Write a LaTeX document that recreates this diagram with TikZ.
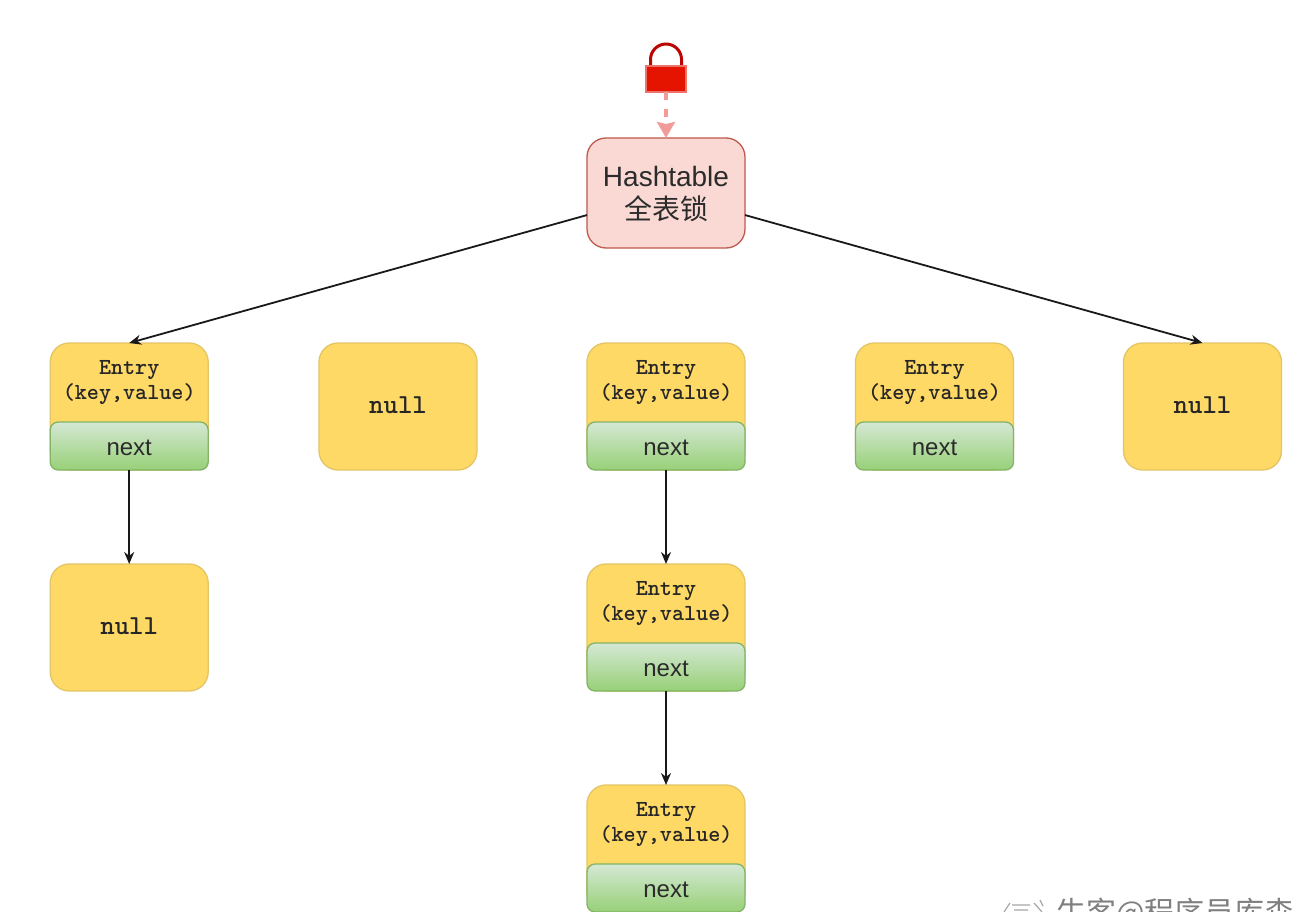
\documentclass[tikz,border=0pt]{standalone}
\usepackage{fontspec}
\setmainfont{Liberation Sans}
\newfontfamily\cjk{Noto Sans CJK SC}
\usetikzlibrary{arrows.meta,shadings}
\definecolor{yfill}{HTML}{FFD966}
\definecolor{ystroke}{HTML}{E3C565}
\definecolor{gtop}{HTML}{D5E8D4}
\definecolor{gbot}{HTML}{97D077}
\definecolor{gstroke}{HTML}{82B366}
\definecolor{hfill}{HTML}{FAD9D5}
\definecolor{hstroke}{HTML}{BE5A4C}
\definecolor{lfill}{HTML}{E51400}
\definecolor{lstroke}{HTML}{B20000}
\definecolor{pinkline}{HTML}{F19C99}
\definecolor{ink}{HTML}{2B2B2B}
\tikzset{
  x=1pt,y=-1pt,
  yellowbox/.style={draw=ystroke,fill=yfill,line width=1.3pt,rounded corners=19pt,minimum width=158pt,minimum height=127pt,inner sep=0pt,outer sep=0pt},
  greenbox/.style={draw=gstroke,top color=gtop,bottom color=gbot,line width=1.3pt,rounded corners=8pt,minimum width=158pt,minimum height=48pt,inner sep=0pt,outer sep=0pt},
  nexttext/.style={anchor=base,inner sep=0pt,text=ink,font=\fontsize{24pt}{24pt}\selectfont},
  hashbox/.style={draw=hstroke,fill=hfill,line width=1.3pt,rounded corners=19pt,minimum width=158pt,minimum height=110pt,inner sep=0pt,outer sep=0pt},
  hashtext/.style={inner sep=0pt,text=ink,align=center,font=\fontsize{28pt}{33pt}\selectfont},
  entrytext/.style={inner sep=0pt,align=center,text=black!85,font=\ttfamily\bfseries\fontsize{23pt}{25pt}\selectfont},
  nulltext/.style={inner sep=0pt,text=black!85,font=\ttfamily\bfseries\fontsize{27.5pt}{28pt}\selectfont},
  edge/.style={draw=black!90,line width=1.8pt,-{Stealth[length=12pt,width=10pt]}},
  lockedge/.style={draw=pinkline,line width=3.2pt,dash pattern=on 8pt off 9pt,-{Stealth[length=16pt,width=18pt,inset=2pt]}},
}
\newcommand{\entrybox}[3]{%
  \node[yellowbox] (#1) at (#2,#3+63.5) {};
  \node[entrytext] (#1t) at (#2,#3+39.5) {Entry\\(key,value)};
  \node[greenbox] (#1n) at (#2,#3+103) {};
  \node[nexttext] (#1x) at (#2,#3+112) {next};
}
\newcommand{\nullbox}[3]{%
  \node[yellowbox] (#1) at (#2,#3+63.5) {};
  \node[nulltext] (#1t) at (#2,#3+62.5) {null};
}
\begin{document}
\begin{tikzpicture}
\useasboundingbox (0,0) rectangle (1316,912);
\clip (0,0) rectangle (1316,912);
\fill[white] (0,0) rectangle (1316,912);
% lock
\draw[lstroke!80!lfill,line width=3pt] (650.5,67) -- (650.5,59.5) arc[start angle=180,end angle=0,x radius=15.5pt,y radius=15.5pt] -- (681.5,67);
\node[draw=pinkline!70!lfill,fill=lfill,line width=1.6pt,minimum width=40pt,minimum height=26pt,inner sep=0pt,outer sep=0pt] (lock) at (666,79) {};
% hashtable
\node[hashbox] (hash) at (666,193) {};
\node[hashtext] (hasht) at (666,194) {Hashtable\\[0pt]{\cjk 全表锁}};
% entries
\entrybox{a}{129.2}{343}
\nullbox{b}{398}{343}
\entrybox{c}{666}{343}
\entrybox{d}{934.5}{343}
\nullbox{e}{1202.5}{343}
\nullbox{f}{129.2}{564}
\entrybox{g}{666}{564}
\entrybox{h}{666}{785}
% connectors
\draw[lockedge] (lock) -- (hash);
\draw[edge] (hash) -- (a.north);
\draw[edge] (hash) -- (e.north);
\draw[edge] (an) -- (f);
\draw[edge] (cn) -- (g);
\draw[edge] (gn) -- (h);
% watermark
\node[anchor=west,inner sep=0pt,text=black!50,font=\cjk\fontsize{30pt}{30pt}\selectfont] (mark) at (1056,913) {牛客@程序员库森};
\draw[black!35,line width=1.2pt] (1004,912) -- (1010,903) (1012,905) -- (1030,905) (1014,910) -- (1028,910) (1034,903) -- (1042,912) (1040,900) -- (1043,906);
\end{tikzpicture}
\end{document}
